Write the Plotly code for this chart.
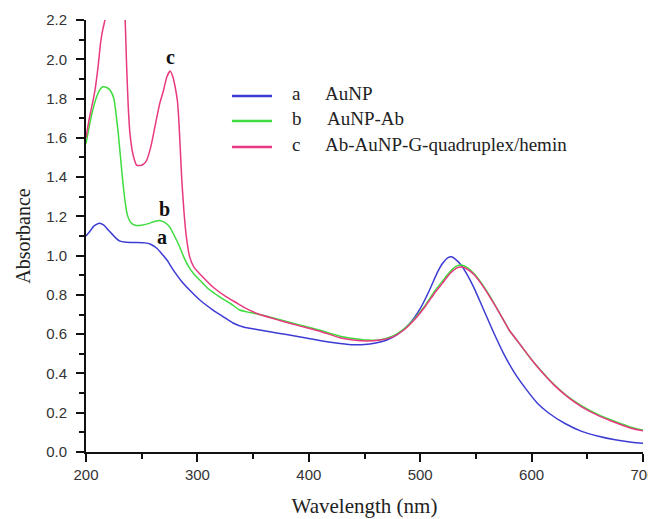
import plotly.graph_objects as go

# ---- data ----
wl_a = [200, 203, 207, 212, 216, 220, 225, 230, 236, 245, 253, 258, 263, 268, 273, 278, 285, 293,
        303, 314, 323, 332, 342, 352, 365, 380, 400, 415, 428, 440, 450, 460, 470, 480, 490, 500,
        508, 515, 520, 525, 528, 532, 537, 542, 548, 555, 565, 575, 585, 595, 605, 615, 630, 645,
        660, 675, 690, 700]
abs_a = [1.10, 1.12, 1.15, 1.165, 1.155, 1.13, 1.10, 1.075, 1.068, 1.067, 1.065, 1.058, 1.04, 1.01,
         0.975, 0.93, 0.875, 0.825, 0.77, 0.723, 0.69, 0.657, 0.635, 0.625, 0.612, 0.598, 0.578,
         0.563, 0.553, 0.546, 0.547, 0.555, 0.57, 0.60, 0.65, 0.73, 0.82, 0.91, 0.96, 0.99, 0.994,
         0.98, 0.95, 0.905, 0.84, 0.75, 0.62, 0.50, 0.40, 0.32, 0.25, 0.20, 0.145, 0.105, 0.08,
         0.062, 0.05, 0.045]

wl_b = [200, 203, 206, 209, 212, 215, 219, 222, 225, 227, 229, 231, 233, 235, 237, 240, 244, 250,
        256, 262, 267, 271, 275, 279, 284, 288, 292, 297, 302, 310, 320, 330, 338, 347, 356, 370,
        390, 410, 428, 440, 452, 464, 475, 485, 495, 505, 513, 520, 527, 533, 537, 542, 548, 555,
        563, 572, 580, 590, 600, 610, 620, 632, 645, 660, 675, 690, 700]
abs_b = [1.57, 1.66, 1.74, 1.80, 1.84, 1.86, 1.855, 1.84, 1.80, 1.72, 1.62, 1.50, 1.38, 1.28, 1.21,
         1.17, 1.155, 1.155, 1.163, 1.175, 1.178, 1.168, 1.147, 1.105, 1.045, 0.99, 0.945, 0.905,
         0.876, 0.83, 0.79, 0.755, 0.723, 0.71, 0.70, 0.68, 0.65, 0.62, 0.59, 0.578, 0.57, 0.572,
         0.59, 0.625, 0.68, 0.75, 0.82, 0.87, 0.92, 0.948, 0.952, 0.94, 0.91, 0.86, 0.79, 0.70,
         0.62, 0.545, 0.47, 0.405, 0.345, 0.285, 0.235, 0.19, 0.155, 0.125, 0.112]

wl_c = [200, 203, 206, 208, 211, 213, 215, 217, 220, 224, 228, 232, 235, 236.5, 238, 239.5, 242,
        245.5, 250, 254, 258, 262, 266, 269.5, 272.5, 275.5, 278, 280, 282, 283, 284.5, 286, 288,
        290, 293, 297, 305, 315, 326, 335, 344, 356, 374, 390, 410, 428, 440, 452, 464, 475, 485,
        495, 505, 513, 520, 527, 533, 537, 542, 548, 555, 563, 572, 580, 590, 600, 610, 620, 632,
        645, 660, 675, 690, 700]
abs_c = [1.60, 1.70, 1.78, 1.84, 1.97, 2.08, 2.15, 2.20, 2.35, 2.50, 2.55, 2.45, 2.22, 1.96, 1.75,
         1.62, 1.52, 1.46, 1.46, 1.48, 1.55, 1.66, 1.77, 1.84, 1.91, 1.94, 1.91, 1.86, 1.79, 1.72,
         1.56, 1.385, 1.22, 1.10, 0.995, 0.94, 0.89, 0.835, 0.79, 0.76, 0.73, 0.70, 0.67, 0.645,
         0.615, 0.582, 0.57, 0.565, 0.57, 0.585, 0.62, 0.675, 0.745, 0.81, 0.86, 0.91, 0.938,
         0.942, 0.932, 0.905, 0.855, 0.785, 0.70, 0.62, 0.545, 0.47, 0.402, 0.342, 0.282, 0.23,
         0.185, 0.15, 0.12, 0.108]

series_letters = ["a", "b", "c"]
series_names = ["AuNP", "AuNP-Ab", "Ab-AuNP-G-quadruplex/hemin"]
series_colors = ["#3c3cd4", "#3fdc3f", "#e8387f"]

x_ticks = [200, 300, 400, 500, 600, 700]
y_ticks = [0.0, 0.2, 0.4, 0.6, 0.8, 1.0, 1.2, 1.4, 1.6, 1.8, 2.0, 2.2]

# curve-label anchor points (data coords)
label_pos = [(267.8, 1.095), (270.9, 1.235), (275.4, 2.013)]

# legend layout (paper coords)
leg_line_x = (0.262, 0.334)
leg_letter_x = 0.366
leg_name_x = [0.4255, 0.429, 0.4255]
leg_y = [0.824, 0.766, 0.706]

SERIF = "Liberation Serif"
SANS = "Liberation Sans"

fig = go.Figure()
for wl, ab, nm, col in zip([wl_a, wl_b, wl_c], [abs_a, abs_b, abs_c], series_names, series_colors):
    fig.add_trace(go.Scatter(x=wl, y=ab, mode="lines", name=nm, showlegend=False,
                             line=dict(color=col, width=1.5, shape="spline", smoothing=0.5)))

for (lx, ly), let in zip(label_pos, series_letters):
    fig.add_annotation(x=lx, y=ly, text=f"<b>{let}</b>", showarrow=False,
                       font=dict(family=SERIF, size=20, color="#111"))

# legend drawn as lines + text
for i, (let, nm, col) in enumerate(zip(series_letters, series_names, series_colors)):
    fig.add_shape(type="line", xref="paper", yref="paper",
                  x0=leg_line_x[0], x1=leg_line_x[1], y0=leg_y[i], y1=leg_y[i],
                  line=dict(color=col, width=2.5))
    fig.add_annotation(xref="paper", yref="paper", x=leg_letter_x, y=leg_y[i] + 0.005,
                       xanchor="left", yanchor="middle", text=let, showarrow=False,
                       font=dict(family=SERIF, size=19, color="#222"))
    fig.add_annotation(xref="paper", yref="paper", x=leg_name_x[i], y=leg_y[i] + 0.005,
                       xanchor="left", yanchor="middle", text=nm, showarrow=False,
                       font=dict(family=SERIF, size=19, color="#222"))

axis_common = dict(showline=True, linecolor="#111", linewidth=2, ticks="outside",
                   tickcolor="#111", tickwidth=1.5, ticklen=8, showgrid=False, zeroline=False,
                   tickfont=dict(family=SANS, size=15, color="#333"), mirror=False,
                   automargin=False)

# the page body adds an 8px offset; the margins compensate for it
fig.update_layout(
    width=656, height=519,
    margin=dict(l=78, r=21, t=12, b=75, autoexpand=False),
    paper_bgcolor="white", plot_bgcolor="white",
    xaxis=dict(range=[200, 700], tickvals=x_ticks, ticktext=[str(v) for v in x_ticks],
               minor=dict(dtick=50, ticks="outside", ticklen=5, tickcolor="#111", tickwidth=1.5),
               title=dict(text="Wavelength (nm)", standoff=16,
                          font=dict(family=SERIF, size=21, color="#222")),
               **axis_common),
    yaxis=dict(range=[0, 2.2], tickvals=y_ticks, ticktext=[f"{v:.1f}" for v in y_ticks],
               ticklabelstandoff=6,
               minor=dict(dtick=0.1, ticks="outside", ticklen=5, tickcolor="#111", tickwidth=1.5),
               title=dict(text="Absorbance", standoff=10,
                          font=dict(family=SERIF, size=20, color="#222")),
               **axis_common),
)

fig.write_html("out.html")
